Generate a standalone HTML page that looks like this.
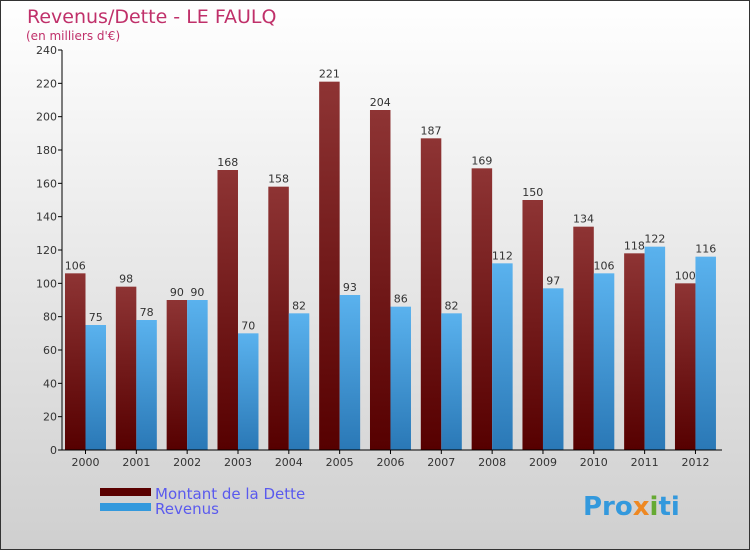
<!DOCTYPE html>
<html><head><meta charset="utf-8"><style>
body{margin:0;width:750px;height:550px;overflow:hidden}
svg{display:block;font-family:"DejaVu Sans","Liberation Sans",sans-serif}
</style></head><body>
<svg id="c" width="750" height="550">
<defs>
<linearGradient id="bg" x1="0" y1="0" x2="0" y2="1"><stop offset="0" stop-color="#ffffff"/><stop offset="1" stop-color="#cfcfcf"/></linearGradient>
<linearGradient id="gd" x1="0" y1="0" x2="0" y2="1"><stop offset="0" stop-color="#8e3434"/><stop offset="1" stop-color="#560000"/></linearGradient>
<linearGradient id="gr" x1="0" y1="0" x2="0" y2="1"><stop offset="0" stop-color="#5ab2ee"/><stop offset="1" stop-color="#2a78b6"/></linearGradient>
</defs>
<rect x="0.5" y="0.5" width="749" height="549" fill="url(#bg)" stroke="#333"/>
<text x="27" y="23" font-size="19" fill="#c0306a">Revenus/Dette - LE FAULQ</text>
<text x="26" y="40" font-size="12" fill="#c0306a">(en milliers d'€)</text>
<g id="plot"></g>
<g>
<rect x="100" y="488" width="51" height="8" fill="#5a0000"/>
<text x="155" y="499" font-size="15" fill="#5a5aee">Montant de la Dette</text>
<rect x="100" y="503" width="51" height="8" fill="#3399dd"/>
<text x="155" y="514" font-size="15" fill="#5a5aee">Revenus</text>
</g>
<text x="583" y="515" font-size="26" font-weight="bold" fill="#3399dd">Pro<tspan fill="#ee8822">x</tspan><tspan fill="#66aa33">i</tspan>ti</text>
</svg>
<script>
const years=["2000","2001","2002","2003","2004","2005","2006","2007","2008","2009","2010","2011","2012"];
const dette=[106,98,90,168,158,221,204,187,169,150,134,118,100];
const revenus=[75,78,90,70,82,93,86,82,112,97,106,122,116];
const ticks=[0,20,40,60,80,100,120,140,160,180,200,220,240];
const NS="http://www.w3.org/2000/svg";
const g=document.getElementById('plot');
const x0=62,y0=450,yTop=50,maxV=240,gw=50.83,bw=20.5;
const y=v=>y0-(v/maxV)*(y0-yTop);
const gx=i=>x0+3+i*gw;
function mk(t,a){const e=document.createElementNS(NS,t);for(const k in a)e.setAttribute(k,a[k]);g.appendChild(e);return e;}
ticks.forEach(t=>{
 const l=mk('line',{x1:x0-4,x2:x0,y1:y(t),y2:y(t),stroke:'#000'});
 
 
 const tx=mk('text',{x:x0-5,y:y(t)+4,'font-size':11,fill:'#333','text-anchor':'end'});
 tx.textContent=t;
 
 
});
years.forEach((yr,i)=>{
 const bx=gx(i);
 const b1=mk('rect',{x:bx,y:y(dette[i]),width:bw,height:y0-y(dette[i]),fill:'url(#gd)'});
 
 
 const b2=mk('rect',{x:bx+bw,y:y(revenus[i]),width:bw,height:y0-y(revenus[i]),fill:'url(#gr)'});
 
 
 const t1=mk('text',{x:bx+bw/2,y:y(dette[i])-4,'font-size':11,fill:'#333','text-anchor':'middle'});
 t1.textContent=dette[i];
 
 
 const t2=mk('text',{x:bx+bw*1.5,y:y(revenus[i])-4,'font-size':11,fill:'#333','text-anchor':'middle'});
 t2.textContent=revenus[i];
 
 
 const tk=mk('line',{x1:bx+bw,x2:bx+bw,y1:y0,y2:y0+4,stroke:'#000'});
 
 
 const xl=mk('text',{x:bx+bw,y:y0+16,'font-size':11,fill:'#333','text-anchor':'middle'});
 xl.textContent=yr;
 
 
});
const ax=mk('line',{x1:x0,x2:x0,y1:yTop,y2:y0,stroke:'#000'});


const bx=mk('line',{x1:x0,x2:722,y1:y0,y2:y0,stroke:'#000'});


</script>
</body></html>
